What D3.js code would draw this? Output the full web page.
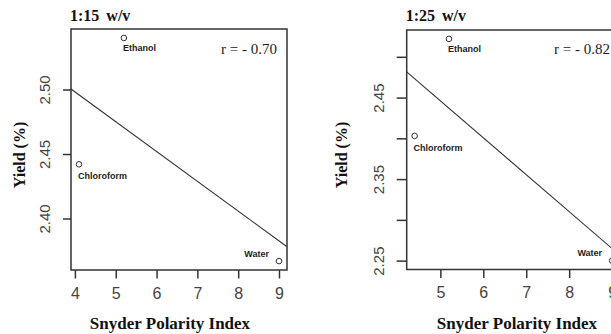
<!DOCTYPE html>
<html>
<head>
<meta charset="utf-8">
<script src="https://cdn.jsdelivr.net/npm/d3@7"></script>
<style>
  body { margin: 0; background: #fff; overflow: hidden; }
  .tick-label { font-family: "Liberation Sans", Arial, sans-serif; font-size: 15px; fill: #444; }
  .x-tick { font-size: 16px; }
  .title { font-family: "Liberation Serif", "Times New Roman", serif; font-weight: bold; font-size: 16px; fill: #111; word-spacing: 3px; }
  .axis-title { font-family: "Liberation Serif", "Times New Roman", serif; font-weight: bold; fill: #111; }
  .r-label { font-family: "Liberation Serif", "Times New Roman", serif; font-size: 15px; fill: #222; }
  .pt-label { font-family: "Liberation Sans", Arial, sans-serif; font-weight: bold; font-size: 9px; fill: #222; }
</style>
</head>
<body>
<div id="chart"></div>
<script>
// Data
var solvents = ["Chloroform", "Ethanol", "Water"],
	polarity15 = [4.1, 5.2, 9.0],
	yield15 = [2.442, 2.540, 2.367],
	polarity25 = [4.4, 5.2, 9.0],
	yield25 = [2.403, 2.522, 2.250],
	titles = ["1:15 w/v", "1:25 w/v"],
	rLabels = ["r = - 0.70", "r = - 0.82"],
	xTicks15 = [4, 5, 6, 7, 8, 9],
	yTicks15 = [2.40, 2.45, 2.50],
	yLabels15 = ["2.40", "2.45", "2.50"],
	xTicks25 = [5, 6, 7, 8, 9],
	yTicks25 = [2.25, 2.30, 2.35, 2.40, 2.45, 2.50],
	yLabels25 = ["2.25", "", "2.35", "", "2.45", ""];

var width = 611,
	height = 334,
	svg = d3.select("#chart")
	.append("svg")
	.attr("width", width)
	.attr("height", height);

// panel boxes (layout only)
var panels = [
	{ x0: 71, x1: 287, y0: 29, y1: 270, xLab: 170, yLab: 25, yTickX: 50,
	  px: polarity15, py: yield15, xt: xTicks15, yt: yTicks15, yl: yLabels15, yTick: 8 },
	{ x0: 406.7, x1: 620, y0: 30, y1: 269.5, xLab: 517, yLab: 347, yTickX: 384,
	  px: polarity25, py: yield25, xt: xTicks25, yt: yTicks25, yl: yLabels25, yTick: 10 }
];

// R style range: extent padded by 4%
function pad(ext) {
	var d = (ext[1] - ext[0]) * 0.04;
	return [ext[0] - d, ext[1] + d];
}

// least squares fit
function fit(xs, ys) {
	var mx = d3.mean(xs), my = d3.mean(ys), sxy = 0, sxx = 0;
	xs.forEach(function(x, i) { sxy += (x - mx) * (ys[i] - my); sxx += (x - mx) * (x - mx); });
	var b = sxy / sxx;
	return { b: b, a: my - b * mx };
}

var lineColor = "#333";

panels.forEach(function(p, k) {
	var g = svg.append("g"),
		xDom = pad(d3.extent(p.px)),
		yDom = pad(d3.extent(p.py)),
		x = d3.scaleLinear().domain(xDom).range([p.x0, p.x1]),
		y = d3.scaleLinear().domain(yDom).range([p.y1, p.y0]),
		id = "clip" + k;

	g.append("clipPath").attr("id", id)
		.append("rect")
		.attr("x", p.x0).attr("y", p.y0)
		.attr("width", p.x1 - p.x0).attr("height", p.y1 - p.y0);

	// x axis
	var xAxis = g.append("g")
		.attr("transform", "translate(0," + p.y1 + ")")
		.call(d3.axisBottom(x).tickValues(p.xt).tickSize(8.5).tickPadding(9).tickFormat(d3.format("d")));
	xAxis.select(".domain").remove();
	xAxis.selectAll("line").attr("stroke", lineColor).attr("stroke-width", 1.5);
	xAxis.selectAll("text").attr("class", "tick-label x-tick").attr("font-size", null).attr("font-family", null);

	// y axis
	var yAxis = g.append("g")
		.attr("transform", "translate(" + p.x0 + ",0)")
		.call(d3.axisLeft(y).tickValues(p.yt).tickSize(p.yTick).tickFormat(function(d, i) { return p.yl[i]; }));
	yAxis.select(".domain").remove();
	yAxis.selectAll("line").attr("stroke", lineColor).attr("stroke-width", 1.5);
	yAxis.selectAll("text")
		.attr("class", "tick-label")
		.attr("font-size", null).attr("font-family", null)
		.attr("x", null).attr("dy", null)
		.attr("text-anchor", "middle")
		.attr("transform", function() { return "translate(" + (p.yTickX - p.x0) + ",0) rotate(-90)"; });

	// regression line
	var f = fit(p.px, p.py);
	g.append("line")
		.attr("clip-path", "url(#" + id + ")")
		.attr("x1", x(xDom[0])).attr("y1", y(f.a + f.b * xDom[0]))
		.attr("x2", x(xDom[1])).attr("y2", y(f.a + f.b * xDom[1]))
		.attr("stroke", lineColor).attr("stroke-width", 1.1);

	// box
	g.append("rect")
		.attr("x", p.x0).attr("y", p.y0)
		.attr("width", p.x1 - p.x0).attr("height", p.y1 - p.y0)
		.attr("fill", "none").attr("stroke", lineColor).attr("stroke-width", 1.5);

	// points
	g.selectAll("circle")
		.data(solvents)
		.enter()
		.append("circle")
		.attr("cx", function(d, i) { return x(p.px[i]); })
		.attr("cy", function(d, i) { return y(p.py[i]); })
		.attr("r", 2.8)
		.attr("fill", "none")
		.attr("stroke", lineColor)
		.attr("stroke-width", 1);

	g.selectAll(".pt-label")
		.data(solvents)
		.enter()
		.append("text")
		.attr("class", "pt-label")
		.attr("x", function(d, i) { return x(p.px[i]) + (d === "Water" ? -10 : -1); })
		.attr("y", function(d, i) { return y(p.py[i]) + (d === "Water" ? -4.5 : (d === "Ethanol" ? 13.5 : 15)); })
		.attr("text-anchor", function(d) { return d === "Water" ? "end" : "start"; })
		.text(function(d) { return d; });

	// texts
	g.append("text").attr("class", "title")
		.attr("x", p.x0 - 1).attr("y", 21)
		.text(titles[k]);
	g.append("text").attr("class", "r-label")
		.attr("x", p.x1 - 10).attr("y", 53.5)
		.attr("text-anchor", "end")
		.text(rLabels[k]);
	g.append("text").attr("class", "axis-title")
		.attr("x", p.xLab).attr("y", 329)
		.attr("text-anchor", "middle")
		.style("font-size", "17px")
		.text("Snyder Polarity Index");
	g.append("text").attr("class", "axis-title")
		.attr("transform", "translate(" + p.yLab + ",155) rotate(-90)")
		.attr("text-anchor", "middle")
		.style("font-size", "16px")
		.text("Yield (%)");
});
</script>
</body>
</html>
